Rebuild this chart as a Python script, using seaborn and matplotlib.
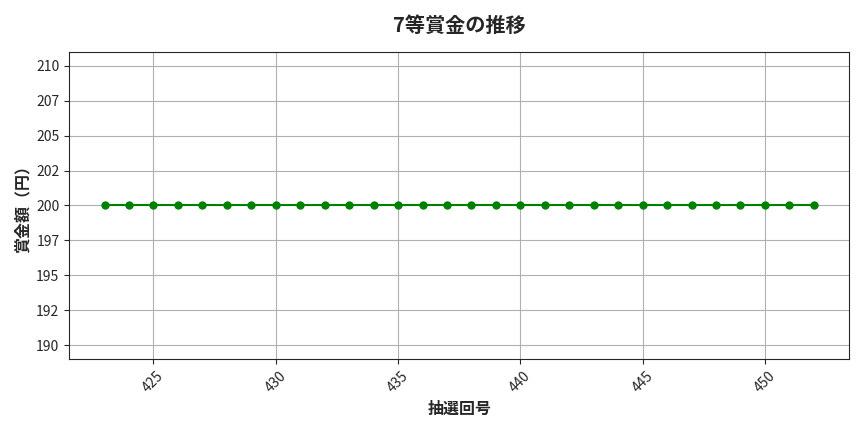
import pandas as pd
import seaborn as sns
import matplotlib
matplotlib.use('Agg')
import matplotlib.pyplot as plt
from matplotlib.ticker import FuncFormatter

# 抽選回号と7等賞金
draws = list(range(423, 453))
prizes = [200] * len(draws)

title = '7等賞金の推移'
xlabel = '抽選回号'
ylabel = '賞金額（円）'

sns.set_style('ticks')
plt.rcParams['font.family'] = ['Noto Sans CJK JP', 'DejaVu Sans']

df = pd.DataFrame({'draw': draws, 'prize': prizes})

fig, ax = plt.subplots(figsize=(8.64, 4.32), dpi=100)
sns.lineplot(x='draw', y='prize', data=df, marker='o', color='green',
             markersize=6, markeredgewidth=0, linewidth=1.5, ax=ax)

ax.set_ylim(189, 211)
ax.set_yticks([190, 192.5, 195, 197.5, 200, 202.5, 205, 207.5, 210])
ax.yaxis.set_major_formatter(FuncFormatter(lambda v, p: f'{int(v)}'))
ax.set_xticks([425, 430, 435, 440, 445, 450])
plt.setp(ax.get_xticklabels(), rotation=45)
ax.grid(True, color='#b0b0b0', linewidth=0.8)

ax.set_title(title, fontsize=14.5, fontweight='bold', pad=14)
ax.set_xlabel(xlabel, fontsize=11.5, fontweight='bold', labelpad=4)
ax.set_ylabel(ylabel, fontsize=11.5, fontweight='bold')

plt.subplots_adjust(left=0.080, right=0.983, top=0.880, bottom=0.169)
plt.savefig('out.png', dpi=100)
